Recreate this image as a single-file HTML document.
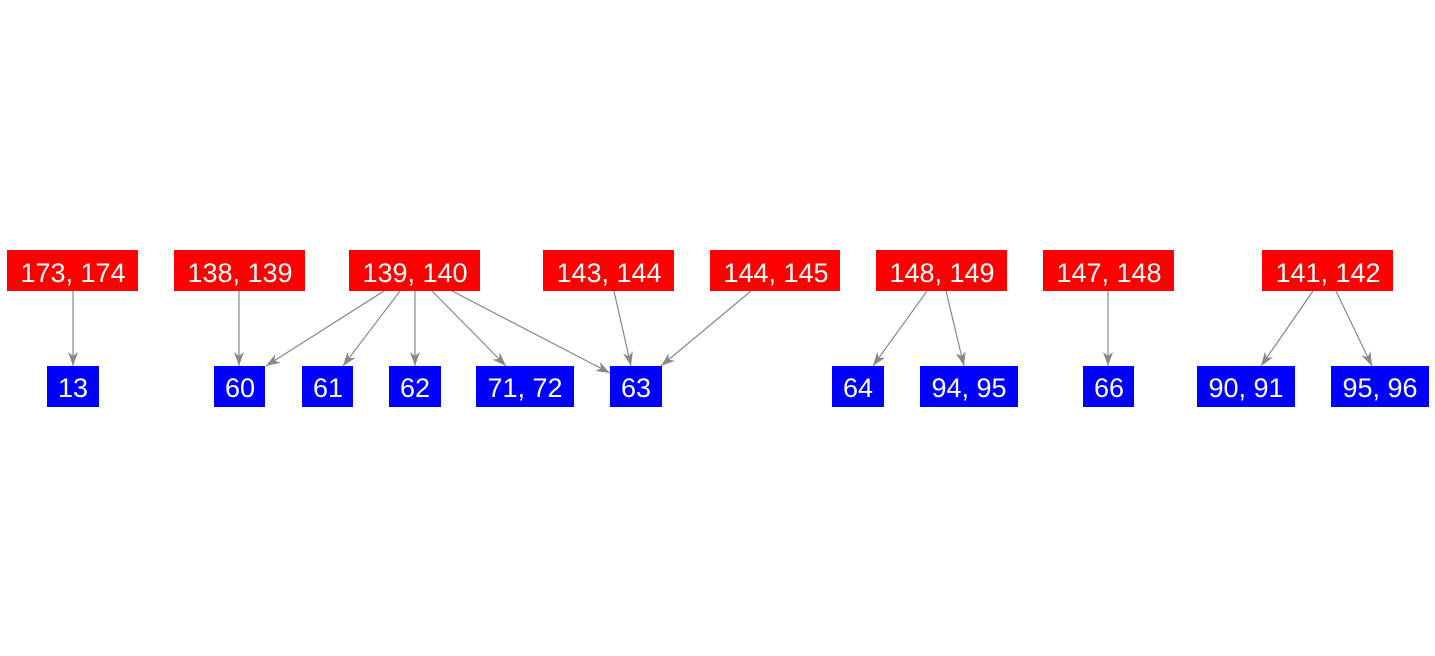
<!DOCTYPE html>
<html><head><meta charset="utf-8"><style>
html,body{margin:0;padding:0;background:#fff;}
svg{display:block;}
text{font-family:"Liberation Sans",Arial,sans-serif;font-size:27px;fill:#fff;text-anchor:middle;}
</style></head><body>
<svg width="1435" height="656" viewBox="0 0 1435 656" xmlns="http://www.w3.org/2000/svg">
<defs>
<marker id="a" viewBox="0 0 14 10" refX="14" refY="5" markerWidth="14" markerHeight="10" markerUnits="userSpaceOnUse" orient="auto">
<path d="M0,0 L14,5 L0,10 L4,5 Z" fill="#888"/>
</marker>
</defs>
<g stroke="#888" stroke-width="1.2" fill="none" marker-end="url(#a)">
<line x1="73" y1="291" x2="73" y2="366"/>
<line x1="239" y1="291" x2="239" y2="366"/>
<line x1="384" y1="291" x2="266" y2="366"/>
<line x1="400" y1="291" x2="343" y2="366"/>
<line x1="415" y1="291" x2="415" y2="366"/>
<line x1="432" y1="291" x2="506" y2="366"/>
<line x1="452" y1="291" x2="610" y2="373"/>
<line x1="614" y1="291" x2="631" y2="366"/>
<line x1="751" y1="291" x2="661" y2="366"/>
<line x1="927" y1="291" x2="873" y2="366"/>
<line x1="946" y1="291" x2="964" y2="366"/>
<line x1="1108" y1="291" x2="1108" y2="366"/>
<line x1="1313" y1="291" x2="1261" y2="366"/>
<line x1="1336" y1="291" x2="1372" y2="366"/>
</g>
<g fill="#f00">
<rect x="7" y="250" width="131" height="41"/>
<rect x="174" y="250" width="131" height="41"/>
<rect x="349" y="250" width="131" height="41"/>
<rect x="543" y="250" width="131" height="41"/>
<rect x="710" y="250" width="130" height="41"/>
<rect x="876" y="250" width="131" height="41"/>
<rect x="1043" y="250" width="131" height="41"/>
<rect x="1262" y="250" width="131" height="41"/>
</g>
<g fill="#00f">
<rect x="47" y="366" width="52" height="41"/>
<rect x="214" y="366" width="51" height="41"/>
<rect x="302" y="366" width="51" height="41"/>
<rect x="389" y="366" width="52" height="41"/>
<rect x="476" y="366" width="98" height="41"/>
<rect x="610" y="366" width="52" height="41"/>
<rect x="832" y="366" width="52" height="41"/>
<rect x="920" y="366" width="98" height="41"/>
<rect x="1083" y="366" width="51" height="41"/>
<rect x="1197" y="366" width="98" height="41"/>
<rect x="1331" y="366" width="98" height="41"/>
</g>
<text x="73" y="282">173, 174</text>
<text x="240" y="282">138, 139</text>
<text x="415" y="282">139, 140</text>
<text x="609" y="282">143, 144</text>
<text x="776" y="282">144, 145</text>
<text x="942" y="282">148, 149</text>
<text x="1109" y="282">147, 148</text>
<text x="1328" y="282">141, 142</text>
<text x="73" y="397">13</text>
<text x="240" y="397">60</text>
<text x="328" y="397">61</text>
<text x="415" y="397">62</text>
<text x="525" y="397">71, 72</text>
<text x="636" y="397">63</text>
<text x="858" y="397">64</text>
<text x="969" y="397">94, 95</text>
<text x="1109" y="397">66</text>
<text x="1246" y="397">90, 91</text>
<text x="1380" y="397">95, 96</text>
</svg>
</body></html>
